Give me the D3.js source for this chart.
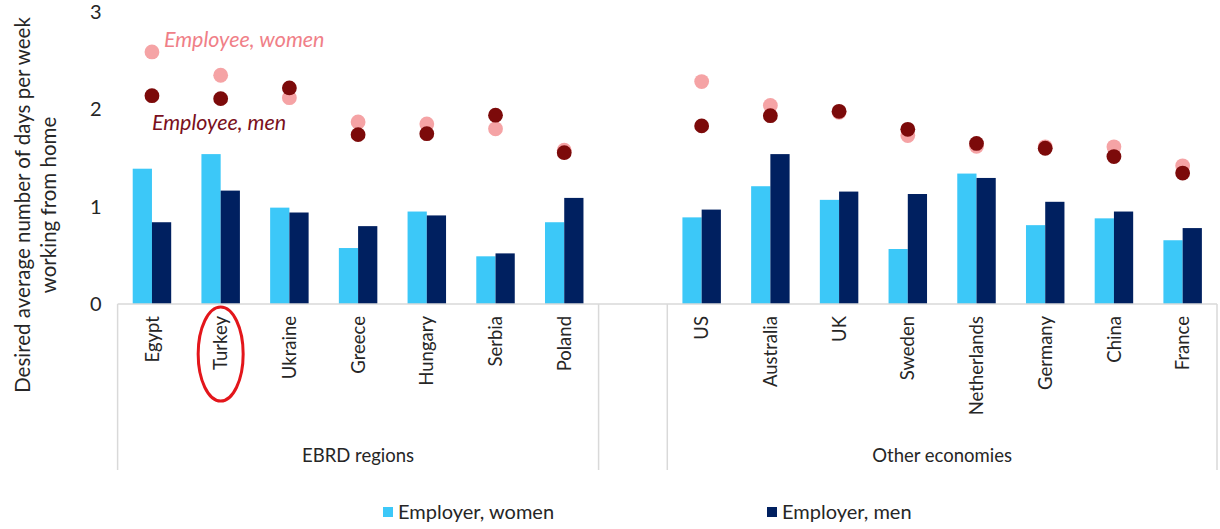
<!DOCTYPE html>
<html>
<head>
<meta charset="utf-8">
<script src="https://cdn.jsdelivr.net/npm/d3@7/dist/d3.min.js"></script>
<style>
  html, body { margin: 0; padding: 0; background: #fff; }
  svg { display: block; font-family: Lato, "Open Sans", sans-serif; }
</style>
</head>
<body>
<svg id="chart" width="1220" height="529"></svg>
<script>
// Desired days per week working from home, by country
const ebrdCountries  = ["Egypt", "Turkey", "Ukraine", "Greece", "Hungary", "Serbia", "Poland"];
const otherCountries = ["US", "Australia", "UK", "Sweden", "Netherlands", "Germany", "China", "France"];
const groupNames = ["EBRD regions", "Other economies"];

// Bars: employer plans
const employerWomen = [1.39, 1.54, 0.99, 0.575, 0.95, 0.49, 0.84,   0.89, 1.21, 1.07, 0.565, 1.34, 0.81, 0.88, 0.655];
const employerMen   = [0.84, 1.165, 0.94, 0.80, 0.91, 0.52, 1.09,   0.97, 1.54, 1.155, 1.13, 1.295, 1.05, 0.95, 0.78];
// Dots: employee wishes
const employeeWomen = [2.59, 2.35, 2.12, 1.87, 1.85, 1.80, 1.58,   2.285, 2.04, 1.97, 1.73, 1.62, 1.615, 1.615, 1.42];
const employeeMen   = [2.14, 2.11, 2.22, 1.74, 1.75, 1.94, 1.555,  1.83, 1.935, 1.98, 1.795, 1.65, 1.60, 1.515, 1.345];

const yTicks = [0, 1, 2, 3];
const barSeries = ["Employer, women", "Employer, men"];

const colors = {
  empWomen: "#3CC8F8",
  empMen: "#002060",
  eeWomen: "#F5A3A5",
  eeMen: "#7C0A0A",
  axis: "#D9D9D9",
  text: "#262626"
};

const svg = d3.select("#chart");
const countries = ebrdCountries.concat(otherCountries);
const GAP = "__gap__";
const slots = ebrdCountries.concat([GAP], otherCountries);

const rows = countries.map((c, i) => ({
  country: c,
  values: [employerWomen[i], employerMen[i]],
  eeWomen: employeeWomen[i],
  eeMen: employeeMen[i]
}));

const plot = { left: 117.6, right: 1217, top: 12, bottom: 304 };

const x = d3.scaleBand().domain(slots).range([plot.left, plot.right])
  .paddingInner(0.44).paddingOuter(0.22);
const xSub = d3.scaleBand().domain([0, 1]).range([0, x.bandwidth()]);
const y = d3.scaleLinear().domain([0, 3]).range([plot.bottom, plot.top]);
const cx = c => x(c) + x.bandwidth() / 2;

// Y tick labels (no axis line, no gridlines)
const yAxis = d3.axisLeft(y).tickValues(yTicks).tickSize(0).tickPadding(0).tickFormat(d3.format("d"));
const yG = svg.append("g").attr("transform", `translate(${plot.left - 16},0)`).call(yAxis);
yG.select(".domain").remove();
yG.selectAll("text").attr("font-size", 20).attr("fill", colors.text).attr("font-family", "Lato, sans-serif");

// Y axis title
const yTitle = svg.append("text")
  .attr("transform", `translate(23, ${plot.bottom - 99}) rotate(-90)`)
  .attr("text-anchor", "middle").attr("font-size", 20.5).attr("fill", colors.text);
yTitle.append("tspan").attr("x", 0).attr("dy", "0.35em").text("Desired average number of days per week");
yTitle.append("tspan").attr("x", 0).attr("dy", "1.25em").text("working from home");

// Bars
const barColors = [colors.empWomen, colors.empMen];
const groups = svg.append("g").selectAll("g").data(rows).join("g")
  .attr("transform", d => `translate(${x(d.country)},0)`);
groups.selectAll("rect").data(d => d.values).join("rect")
  .attr("x", (v, i) => xSub(i))
  .attr("width", xSub.bandwidth())
  .attr("y", v => y(v))
  .attr("height", v => y(0) - y(v))
  .attr("fill", (v, i) => barColors[i]);

// Category axis line and group separators
const axisG = svg.append("g").attr("stroke", colors.axis).attr("stroke-width", 1.5);
const groupBottom = 470;
axisG.append("line").attr("x1", plot.left).attr("x2", plot.right)
  .attr("y1", y(0)).attr("y2", y(0));
const ebrdLeft = x(ebrdCountries[0]) - x.step() * x.paddingInner() / 2;
const ebrdRight = x(GAP) - x.step() * x.paddingInner() / 2;
const otherLeft = x(GAP) + x.bandwidth() + x.step() * x.paddingInner() / 2;
const otherRight = x(otherCountries[otherCountries.length - 1]) + x.bandwidth() + x.step() * x.paddingInner() / 2;
[ebrdLeft, ebrdRight, otherLeft, otherRight].forEach(px => {
  axisG.append("line").attr("x1", px).attr("x2", px).attr("y1", y(0)).attr("y2", groupBottom);
});

// Country labels, rotated
svg.append("g").selectAll("text").data(countries).join("text")
  .attr("transform", c => `translate(${cx(c)}, ${y(0) + 12}) rotate(-90)`)
  .attr("text-anchor", "end").attr("dy", "0.36em")
  .attr("font-size", 18.5).attr("fill", colors.text)
  .text(c => c);

// Group labels
svg.append("g").selectAll("text").data([[ebrdLeft, ebrdRight], [otherLeft, otherRight]]).join("text")
  .attr("x", d => (d[0] + d[1]) / 2).attr("y", 462)
  .attr("text-anchor", "middle").attr("font-size", 18.5).attr("fill", colors.text)
  .text((d, i) => groupNames[i]);

// Employee dots (women underneath, men on top)
const r = 7.4;
svg.append("g").selectAll("circle").data(rows).join("circle")
  .attr("cx", d => cx(d.country)).attr("cy", d => y(d.eeWomen)).attr("r", r)
  .attr("fill", colors.eeWomen);
svg.append("g").selectAll("circle").data(rows).join("circle")
  .attr("cx", d => cx(d.country)).attr("cy", d => y(d.eeMen)).attr("r", r)
  .attr("fill", colors.eeMen);

// Inline series labels for the dots
svg.append("text").attr("x", cx("Egypt") + 12).attr("y", 47)
  .attr("font-size", 21.5).attr("font-style", "italic").attr("fill", "#F07F88")
  .text("Employee, women");
svg.append("text").attr("x", cx("Egypt")).attr("y", 130)
  .attr("font-size", 21.5).attr("font-style", "italic").attr("fill", "#7A1020")
  .text("Employee, men");

// Highlight ring around Turkey's label
svg.append("ellipse")
  .attr("cx", cx("Turkey")).attr("cy", 354).attr("rx", 22.5).attr("ry", 47)
  .attr("fill", "none").attr("stroke", "#E3161B").attr("stroke-width", 3);

// Legend
const legendX = [383, 767];
const legend = svg.append("g").selectAll("g").data(barSeries).join("g")
  .attr("transform", (d, i) => `translate(${legendX[i]}, 507)`);
legend.append("rect").attr("width", 10).attr("height", 10)
  .attr("fill", (d, i) => barColors[i]);
legend.append("text").attr("x", 15).attr("y", 12)
  .attr("font-size", 20).attr("fill", colors.text).text(d => d);
</script>
</body>
</html>
